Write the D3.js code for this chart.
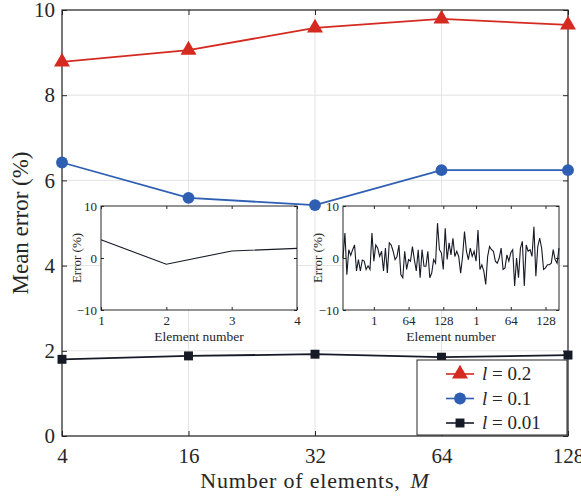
<!DOCTYPE html>
<html><head><meta charset="utf-8">
<script src="https://cdn.jsdelivr.net/npm/d3@7"></script>
<style>body{margin:0;background:#fff}svg{display:block}</style>
</head><body><svg id="c" width="581" height="497"></svg>
<script>
const categories = ["4","16","32","64","128"];
const seriesNames = ["l = 0.2","l = 0.1","l = 0.01"];
const legendValues = ["0.2","0.1","0.01"];
const red02 = [8.78, 9.06, 9.58, 9.79, 9.65];
const blue01 = [6.42, 5.59, 5.42, 6.24, 6.24];
const black001 = [1.80, 1.88, 1.92, 1.85, 1.90];
const yTicks = [0,2,4,6,8,10];
const inset1X = [1,2,3,4];
const inset1Err = [3.5, -1.2, 1.35, 1.85];
const insetYTicks = [-10,0,10];
const inset2Err = [0,4.8,-3.2,1.6,0.5,1.6,2.5,-2.5,-0.3,-2.5,-0.4,-0.6,-2.2,-1.5,-2.2,4.8,-0.6,2.5,1.9,0.3,1.3,-2.5,1.9,-2.9,2.9,2.5,1.3,-0.3,0.3,2.5,-3.2,-3.8,1.3,-2.2,-0.3,-0.6,2.2,-0.3,-2.5,1.6,-3.8,1.6,-1.6,-1.6,1.3,-3.8,-2.9,-0.3,-1.0,6.7,1.6,1.0,-2.2,5.7,-0.3,2.9,0.6,3.8,0.3,1.3,0.3,-2.9,0.3,5.1,1.3,-0.3,1.9,0.3,1.3,-0.6,5.4,-2.2,-1.3,-2.5,-5.1,0.3,2.2,1.6,1.3,-0.6,-1.0,0,1.9,-2.2,-1.9,0.6,-0.6,1.0,1.6,-5.4,0,-3.8,1.9,3.2,-5.4,2.5,1.3,1.6,0.3,6.0,-3.5,2.2,3.8,1.9,-2.2,-1.9,-1.3,-1.3,-1.0,1.6,-0.3,-1.0,1.9];
const inset2TickPos = [16,34,52,69,87,105];
const inset2TickLabels = ["1","64","128","1","64","128"];

const FONT = "'Liberation Serif','Times New Roman',Times,serif";
const svg = d3.select("#c");
const axisCol = "#262626";
const cols = ["#d42a20","#2f5fb3","#151a26"];
const L=62,R=568,T=10,B=436;
const x = d3.scalePoint(categories,[L,R]);
const y = d3.scaleLinear([0,10],[B,T]);

// grid
svg.append("g").selectAll("line").data(categories).join("line")
  .attr("x1",d=>x(d)).attr("x2",d=>x(d)).attr("y1",T).attr("y2",B).attr("stroke","#e3e3e3");
svg.append("g").selectAll("line").data(yTicks).join("line")
  .attr("x1",L).attr("x2",R).attr("y1",d=>y(d)).attr("y2",d=>y(d)).attr("stroke","#e3e3e3");

// axes
function styleAxis(g){g.attr("font-family",FONT);g.select(".domain").remove();g.selectAll("line").attr("stroke",axisCol);g.selectAll("text").style("font-family",FONT).style("font-size","21px").attr("fill",axisCol);}
svg.append("g").attr("transform",`translate(0,${B})`).call(d3.axisBottom(x).tickSize(-5).tickPadding(12)).call(styleAxis);
svg.append("g").attr("transform",`translate(0,${T})`).call(d3.axisTop(x).tickSize(-5).tickFormat("")).call(styleAxis);
svg.append("g").attr("transform",`translate(${L},0)`).call(d3.axisLeft(y).tickValues(yTicks).tickSize(-5).tickPadding(7)).call(styleAxis);
svg.append("g").attr("transform",`translate(${R},0)`).call(d3.axisRight(y).tickValues(yTicks).tickSize(-5).tickFormat("")).call(styleAxis);
svg.append("rect").attr("x",L).attr("y",T).attr("width",R-L).attr("height",B-T).attr("fill","none").attr("stroke",axisCol).attr("stroke-width",1.2);

svg.append("text").attr("x",(L+R)/2).attr("y",488).attr("text-anchor","middle").style("font-family",FONT).style("font-size","22px").style("letter-spacing","0.8px").attr("fill",axisCol)
  .html('Number of elements,<tspan dx="10" font-style="italic">M</tspan>');
svg.append("text").attr("transform",`translate(28,${(T+B)/2}) rotate(-90)`).attr("text-anchor","middle").style("font-family",FONT).style("font-size","23px").attr("fill",axisCol).text("Mean error (%)");

// series
const series = [red02, blue01, black001];
const symbols = [d3.symbolTriangle, d3.symbolCircle, d3.symbolSquare];
const symSizes = [110, 110, 80];
const line = d3.line().x((d,i)=>x(categories[i])).y(d=>y(d));
series.forEach((s,k)=>{
  svg.append("path").attr("d",line(s)).attr("fill","none").attr("stroke",cols[k]).attr("stroke-width",1.8);
  svg.append("g").selectAll("path").data(s).join("path")
    .attr("transform",(d,i)=>`translate(${x(categories[i])},${y(d)})`)
    .attr("d",d3.symbol(symbols[k],symSizes[k])).attr("fill",cols[k]);
});

// insets
function inset(x0,x1,y0,y1,xs,xDomain,data,tickVals,tickLabels,ylabelX){
  const g = svg.append("g");
  const ix = d3.scaleLinear(xDomain,[x0,x1]);
  const iy = d3.scaleLinear([-10,10],[y1,y0]);
  g.append("rect").attr("x",x0).attr("y",y0).attr("width",x1-x0).attr("height",y1-y0).attr("fill","#fff");
  const st = a=>{a.select(".domain").remove();a.selectAll("line").attr("stroke",axisCol);a.selectAll("text").style("font-family",FONT).style("font-size","13px").attr("fill",axisCol);};
  g.append("g").attr("transform",`translate(0,${y1})`).call(d3.axisBottom(ix).tickValues(tickVals).tickFormat((d,i)=>tickLabels[i]).tickSize(-3).tickPadding(6)).call(st);
  g.append("g").attr("transform",`translate(0,${y0})`).call(d3.axisTop(ix).tickValues(tickVals).tickSize(-3).tickFormat("")).call(st);
  g.append("g").attr("transform",`translate(${x0},0)`).call(d3.axisLeft(iy).tickValues(insetYTicks).tickSize(-3).tickPadding(4)).call(st);
  g.append("g").attr("transform",`translate(${x1},0)`).call(d3.axisRight(iy).tickValues(insetYTicks).tickSize(-3).tickFormat("")).call(st);
  g.append("rect").attr("x",x0).attr("y",y0).attr("width",x1-x0).attr("height",y1-y0).attr("fill","none").attr("stroke",axisCol);
  const ln = d3.line().x((d,i)=>ix(xs[i])).y(d=>iy(d));
  g.append("path").attr("d",ln(data)).attr("fill","none").attr("stroke","#151a26").attr("stroke-width",1.1);
  g.append("text").attr("x",(x0+x1)/2).attr("y",y1+31).attr("text-anchor","middle").style("font-family",FONT).style("font-size","13.5px").attr("fill",axisCol).text("Element number");
  g.append("text").attr("transform",`translate(${ylabelX},${(y0+y1)/2}) rotate(-90)`).attr("text-anchor","middle").style("font-family",FONT).style("font-size","13px").attr("fill",axisCol).text("Error (%)");
}
inset(101,297,206,310,inset1X,[1,4],inset1Err,inset1X,inset1X.map(String),81);
const idx2 = inset2Err.map((d,i)=>i);
inset(343,559,206,310,idx2,[0,inset2Err.length-1],inset2Err,inset2TickPos,inset2TickLabels,322);

// legend
const lg = svg.append("g");
lg.append("rect").attr("x",417).attr("y",360).attr("width",150).attr("height",75).attr("fill","#fff").attr("stroke",axisCol);
legendValues.forEach((v,k)=>{
  const yy = 374 + k*24.5;
  lg.append("line").attr("x1",446).attr("x2",474).attr("y1",yy).attr("y2",yy).attr("stroke",cols[k]).attr("stroke-width",1.6);
  lg.append("path").attr("transform",`translate(460,${yy})`).attr("d",d3.symbol(symbols[k],symSizes[k])).attr("fill",cols[k]);
  lg.append("text").attr("x",482).attr("y",yy+6).style("font-family",FONT).style("font-size","19px").attr("fill",axisCol)
    .html(`<tspan font-style="italic">l</tspan> = ${v}`);
});
</script></body></html>
